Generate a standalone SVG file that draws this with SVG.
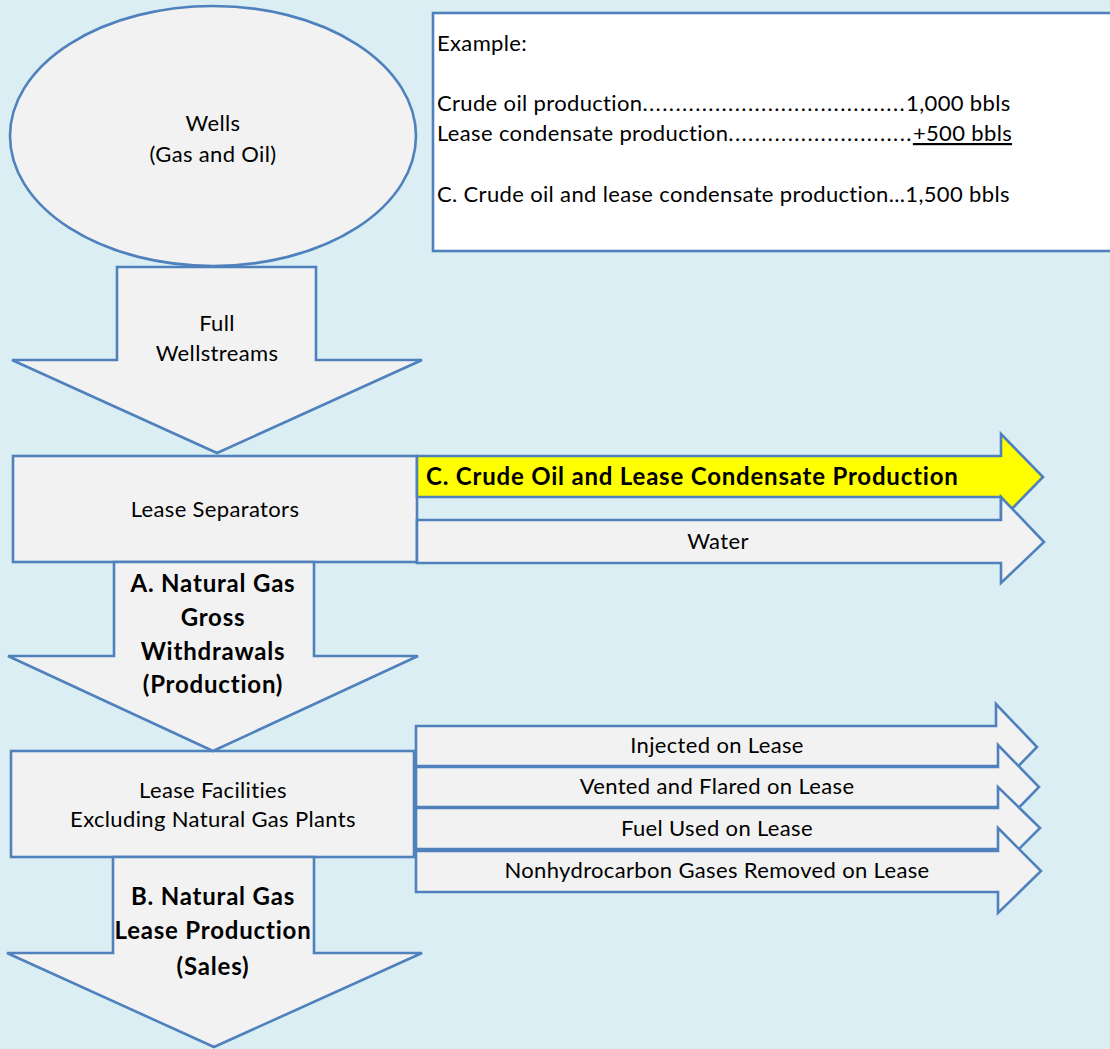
<svg xmlns="http://www.w3.org/2000/svg" width="1110" height="1049" viewBox="0 0 1110 1049">
<style>
.shape{fill:#F2F2F2;stroke:#4F81BD;stroke-width:2.6;stroke-linejoin:miter}
.t{font-family:Lato,"Liberation Sans",sans-serif;font-size:22px;letter-spacing:0.35px;fill:#000;font-variant-ligatures:none;font-feature-settings:"liga" 0}
.c{text-anchor:middle}
.b{font-weight:bold;font-size:24px;letter-spacing:0.8px}
.dots{letter-spacing:1.4px}
</style>
<rect x="0" y="0" width="1110" height="1049" fill="#DAEEF3"/>
<g id="wells">
<ellipse class="shape" cx="213" cy="136" rx="203" ry="130"/>
<text class="t c" x="213" y="131">Wells</text>
<text class="t c" x="213" y="162">(Gas and Oil)</text>
</g>
<g id="example">
<rect x="433" y="13" width="700" height="238" fill="#FFFFFF" stroke="#4F81BD" stroke-width="2.6"/>
<text class="t" x="437" y="51">Example:</text>
<text class="t" x="437" y="111">Crude oil production<tspan class="dots">........................................</tspan>1,000 bbls</text>
<text class="t" x="437" y="141">Lease condensate production<tspan class="dots">............................</tspan><tspan text-decoration="underline">+500 bbls</tspan></text>
<text class="t" x="437" y="202">C. Crude oil and lease condensate production...1,500 bbls</text>
</g>
<g id="lease-separators">
<rect class="shape" x="13" y="456" width="404" height="106"/>
<text class="t c" x="215" y="517">Lease Separators</text>
</g>
<g id="lease-facilities">
<rect class="shape" x="11" y="751" width="403" height="106"/>
<text class="t c" x="213" y="798">Lease Facilities</text>
<text class="t c" x="213" y="827">Excluding Natural Gas Plants</text>
</g>
<g id="connectors">
<g id="full-wellstreams">
<polygon class="shape" points="117,267 316,267 316,360 422,360 217,453 12,360 117,360"/>
<text class="t c" x="217" y="331">Full</text>
<text class="t c" x="217" y="361">Wellstreams</text>
</g>
<g id="crude-oil">
<polygon points="417,456 1001,456 1001,434 1043,477 1001,520 1001,497 417,497" fill="#FFFF00" stroke="#4F81BD" stroke-width="2.6"/>
<text class="t b" x="426" y="485">C. Crude Oil and Lease Condensate Production</text>
</g>
<g id="water">
<polygon class="shape" points="417,520 1001,520 1001,497 1044,542 1001,583 1001,563 417,563"/>
<text class="t c" x="718" y="549">Water</text>
</g>
<g id="gross-withdrawals">
<polygon class="shape" points="114,562 314,562 314,656 418,656 213,751 8,656 114,656"/>
<text class="t c b" x="213" y="592">A. Natural Gas</text>
<text class="t c b" x="213" y="626">Gross</text>
<text class="t c b" x="213" y="660">Withdrawals</text>
<text class="t c b" x="213" y="693">(Production)</text>
</g>
<g id="injected">
<polygon class="shape" points="416,726 996,726 996,704 1037,747 996,789 996,766 416,766"/>
<text class="t c" x="717" y="753">Injected on Lease</text>
</g>
<g id="vented">
<polygon class="shape" points="416,767 998,767 998,745 1039,787 998,829 998,807 416,807"/>
<text class="t c" x="717" y="794">Vented and Flared on Lease</text>
</g>
<g id="fuel">
<polygon class="shape" points="416,808 998,808 998,787 1040,828 998,870 998,849 416,849"/>
<text class="t c" x="717" y="836">Fuel Used on Lease</text>
</g>
<g id="nonhydrocarbon">
<polygon class="shape" points="416,851 998,851 998,828 1041,871 998,913 998,892 416,892"/>
<text class="t c" x="717" y="878">Nonhydrocarbon Gases Removed on Lease</text>
</g>
<g id="lease-production">
<polygon class="shape" points="113,857 314,857 314,953 422,953 214,1047 7,953 113,953"/>
<text class="t c b" x="213" y="905">B. Natural Gas</text>
<text class="t c b" x="213" y="939">Lease Production</text>
<text class="t c b" x="213" y="975">(Sales)</text>
</g>
</g>
</svg>
